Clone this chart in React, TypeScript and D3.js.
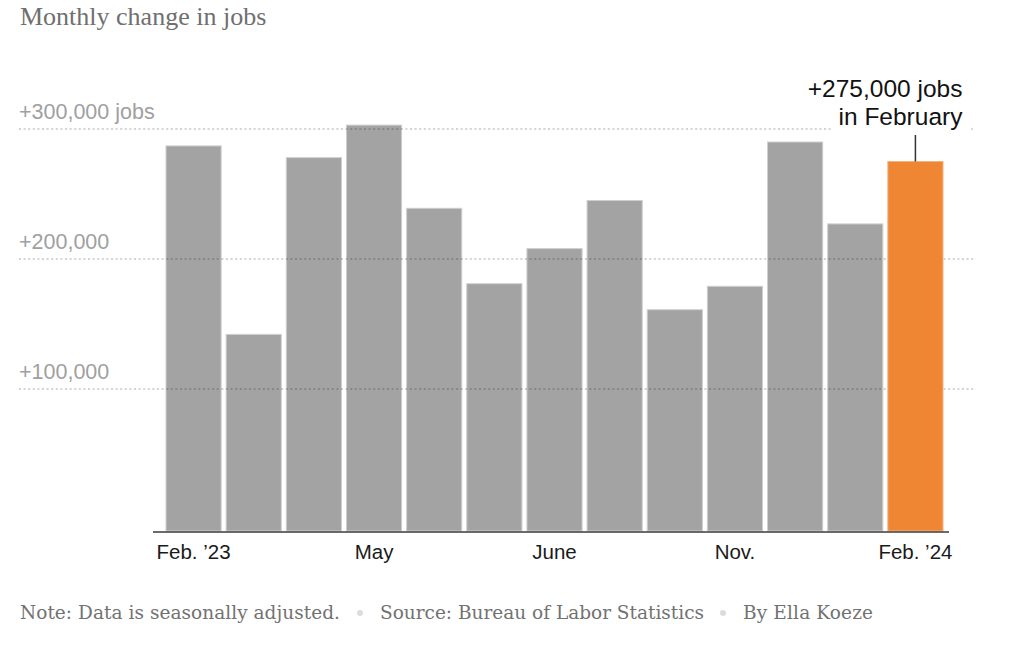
import { useEffect, useRef } from "react";
import * as d3 from "d3";

// Monthly change in nonfarm payrolls, Feb 2023 - Feb 2024
const MONTHS = [
  "2023-02", "2023-03", "2023-04", "2023-05", "2023-06", "2023-07", "2023-08",
  "2023-09", "2023-10", "2023-11", "2023-12", "2024-01", "2024-02",
];
const JOBS = [287000, 142000, 278000, 303000, 239000, 181000, 208000, 245000, 161000, 179000, 290000, 227000, 275000];
const TICK_MONTHS = ["2023-02", "2023-05", "2023-08", "2023-11", "2024-02"];
const TICK_LABELS = ["Feb. ’23", "May", "June", "Nov.", "Feb. ’24"];
const Y_TICKS = [100000, 200000, 300000];
const Y_TICK_LABELS = ["+100,000", "+200,000", "+300,000 jobs"];
const HIGHLIGHT = "2024-02";
const ANNOTATION = ["+275,000 jobs", "in February"];

const SANS = "'Liberation Sans', Arial, Helvetica, sans-serif";
const SERIF = "'Liberation Serif', Georgia, serif";
const NOTE_SERIF = "'DejaVu Serif', Georgia, serif";

export default function App() {
  const svgRef = useRef<SVGSVGElement>(null);

  useEffect(() => {
    document.body.style.margin = "0";
    if (!svgRef.current) return;
    const svg = d3.select(svgRef.current);
    svg.selectAll("*").remove();

    const W = 1024;
    const H = 650;
    svg.attr("width", W).attr("height", H);

    const x = d3
      .scaleBand<string>()
      .domain(MONTHS)
      .range([163.5, 945.5])
      .paddingInner(0.083)
      .paddingOuter(0.0415);
    const y = d3.scaleLinear().domain([0, 300000]).range([519, 129]);
    const baseline = y(0) + 12;
    const gridX0 = 19;
    const gridX1 = 973;

    const data = MONTHS.map((m, i) => ({ month: m, value: JOBS[i] }));

    // Title
    svg.append("text")
      .attr("x", 20).attr("y", 25)
      .attr("font-family", SERIF)
      .attr("font-size", 26)
      .attr("fill", "#6f6f6f")
      .text("Monthly change in jobs");

    // Gray bars (under the grid)
    svg.append("g")
      .selectAll("rect")
      .data(data.filter((d) => d.month !== HIGHLIGHT))
      .join("rect")
      .attr("x", (d) => x(d.month)!)
      .attr("width", x.bandwidth())
      .attr("y", (d) => y(d.value))
      .attr("height", (d) => baseline - y(d.value))
      .attr("fill", "#a3a3a3")
      .attr("stroke", "#cfcfcf")
      .attr("stroke-width", 1);

    // Dotted grid lines
    svg.append("g")
      .selectAll("line")
      .data(Y_TICKS)
      .join("line")
      .attr("x1", gridX0).attr("x2", gridX1)
      .attr("y1", (d) => y(d)).attr("y2", (d) => y(d))
      .attr("stroke", "rgba(0,0,0,0.17)")
      .attr("stroke-width", 2)
      .attr("stroke-dasharray", "2 2.6");

    // Y labels
    svg.append("g")
      .selectAll("text")
      .data(Y_TICKS)
      .join("text")
      .attr("x", gridX0)
      .attr("y", (d) => y(d) - 10)
      .attr("font-family", SANS)
      .attr("font-size", 21.5)
      .attr("fill", "#a0a0a0")
      .text((_, i) => Y_TICK_LABELS[i]);

    // Highlighted bar (over the grid)
    const hi = data.find((d) => d.month === HIGHLIGHT)!;
    svg.append("rect")
      .attr("x", x(hi.month)!)
      .attr("width", x.bandwidth())
      .attr("y", y(hi.value))
      .attr("height", baseline - y(hi.value))
      .attr("fill", "#ef8634")
      .attr("stroke", "#f4b27e")
      .attr("stroke-width", 1);

    // Baseline axis
    svg.append("line")
      .attr("x1", 153).attr("x2", 949)
      .attr("y1", baseline + 1).attr("y2", baseline + 1)
      .attr("stroke", "#3a3a3a")
      .attr("stroke-width", 1.5);

    // X labels
    svg.append("g")
      .selectAll("text")
      .data(TICK_MONTHS)
      .join("text")
      .attr("x", (d) => x(d)! + x.bandwidth() / 2)
      .attr("y", baseline + 28)
      .attr("text-anchor", "middle")
      .attr("font-family", SANS)
      .attr("font-size", 20.5)
      .attr("fill", "#1a1a1a")
      .text((_, i) => TICK_LABELS[i]);

    // Annotation
    const cx = x(hi.month)! + x.bandwidth() / 2;
    const ann = svg.append("g");
    const bg = ann.append("rect").attr("fill", "#fff");
    let lastLine: SVGTextElement | null = null;
    ANNOTATION.forEach((line, i) => {
      const t = ann.append("text")
        .attr("x", cx + 47)
        .attr("y", 97 + i * 28)
        .attr("font-family", SANS)
        .attr("font-size", 24.5)
        .attr("fill", "#121212")
        .attr("text-anchor", "end")
        .text(line);
      lastLine = t.node();
    });
    if (lastLine) {
      const bb = (lastLine as SVGTextElement).getBBox();
      bg.attr("x", bb.x - 7).attr("y", bb.y).attr("width", bb.width + 14).attr("height", bb.height);
    }
    ann.append("line")
      .attr("x1", cx).attr("x2", cx)
      .attr("y1", 135).attr("y2", y(hi.value))
      .attr("stroke", "#333")
      .attr("stroke-width", 1.5);

    // Footnote
    const notes = [
      { x: 20, w: 320, t: "Note: Data is seasonally adjusted." },
      { x: 380, w: 324, t: "Source: Bureau of Labor Statistics" },
      { x: 743, w: 130, t: "By Ella Koeze" },
    ];
    svg.append("g")
      .selectAll("text")
      .data(notes)
      .join("text")
      .attr("x", (d) => d.x)
      .attr("y", 619)
      .attr("font-family", NOTE_SERIF)
      .attr("font-size", 18.5)
      .attr("fill", "#727272")
      .attr("textLength", (d) => d.w)
      .attr("lengthAdjust", "spacing")
      .text((d) => d.t);
    svg.append("g")
      .selectAll("circle")
      .data([360, 723])
      .join("circle")
      .attr("cx", (d) => d)
      .attr("cy", 613)
      .attr("r", 3)
      .attr("fill", "#dcdcdc");
  }, []);

  return <svg ref={svgRef} style={{ display: "block" }} />;
}
